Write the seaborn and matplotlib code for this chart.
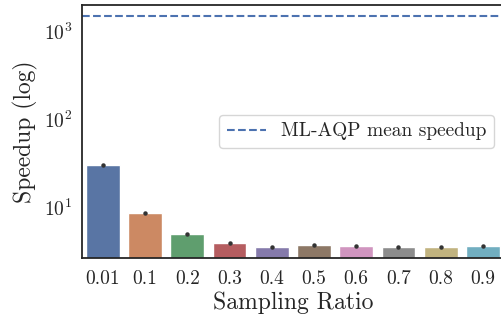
import numpy as np
import pandas as pd
import seaborn as sns
import matplotlib
matplotlib.use("Agg")
import matplotlib.pyplot as plt

# values
ratios = ["0.01", "0.1", "0.2", "0.3", "0.4", "0.5", "0.6", "0.7", "0.8", "0.9"]
speedup = [30.0, 8.5, 4.9, 3.9, 3.5, 3.65, 3.58, 3.46, 3.45, 3.58]
speedup_err = [0.6, 0.18, 0.1, 0.08, 0.07, 0.07, 0.07, 0.07, 0.07, 0.07]
ml_aqp_mean = 1520

sns.set_theme(style="white")
plt.rcParams["font.family"] = "serif"
plt.rcParams["font.serif"] = ["cmr10"]
plt.rcParams["mathtext.fontset"] = "cm"
plt.rcParams["axes.formatter.use_mathtext"] = True
plt.rcParams["axes.unicode_minus"] = False

df = pd.DataFrame({"ratio": ratios, "speedup": speedup})

fig, ax = plt.subplots(figsize=(5.02, 3.23), dpi=100)
fig.subplots_adjust(left=0.163, right=1.004, top=0.985, bottom=0.201)

sns.barplot(data=df, x="ratio", y="speedup", hue="ratio", palette="deep",
            legend=False, errorbar=None, ax=ax)
ax.errorbar(range(len(ratios)), speedup, yerr=speedup_err, fmt="o",
            color="#333333", markersize=2.2, elinewidth=1.8, capsize=0)

ax.axhline(ml_aqp_mean, color="#4c72b0", linestyle="--", linewidth=1.5,
           label="ML-AQP mean speedup")

ax.set_xlim(-0.5, len(ratios) - 0.5)
ax.set_yscale("log")
ax.set_ylim(2.6, 2030)
ax.yaxis.set_minor_locator(matplotlib.ticker.NullLocator())

ax.set_xlabel("Sampling Ratio", fontsize=17, labelpad=2)
ax.set_ylabel("Speedup (log)", fontsize=17)
ax.tick_params(axis="x", labelsize=14, length=0, pad=9)
ax.tick_params(axis="y", labelsize=14, length=0, pad=7)
for s in ax.spines.values():
    s.set_color("#262626")
    s.set_linewidth(1.3)

ax.legend(loc="center right", fontsize=14, frameon=True)

plt.savefig("out.png", dpi=100)
